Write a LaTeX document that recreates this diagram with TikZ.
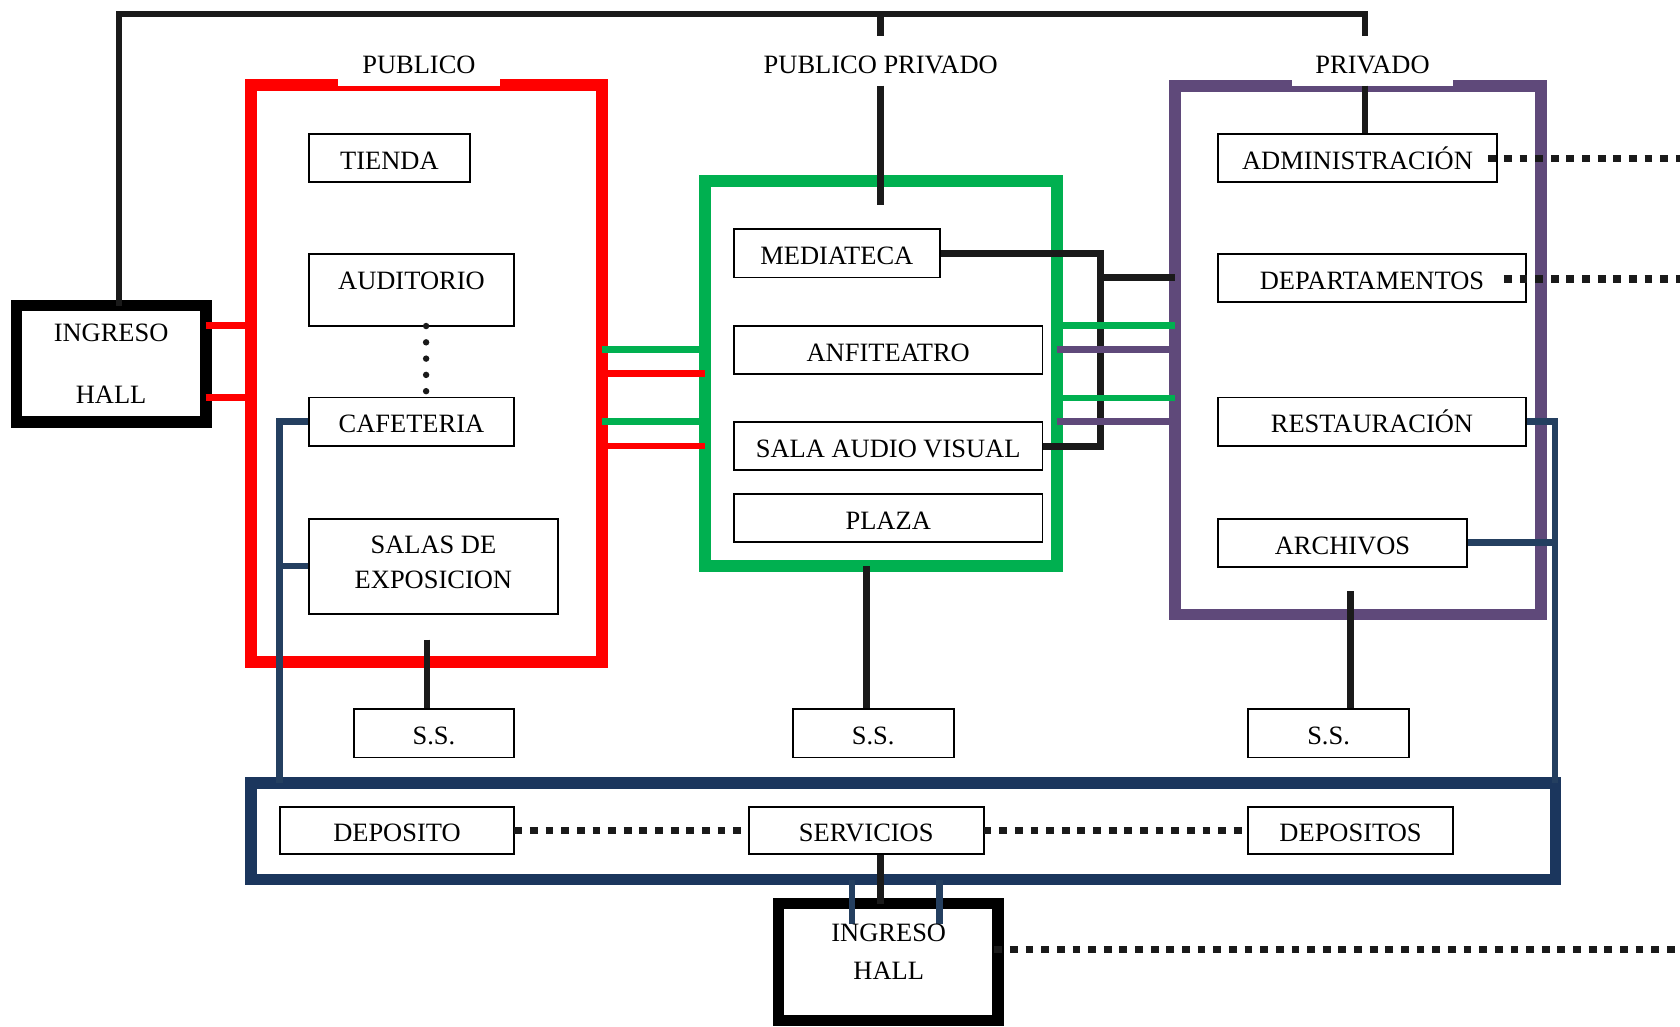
\documentclass[tikz,border=0pt]{standalone}
\usepackage{fontspec}
\setmainfont{Liberation Serif}
\definecolor{cred}{HTML}{FF0000}
\definecolor{cgreen}{HTML}{00B050}
\definecolor{cpurple}{HTML}{5F497A}
\definecolor{cnavy}{HTML}{1B365D}
\definecolor{cnavyl}{HTML}{243F60}
\definecolor{cblk}{HTML}{1A1A1A}
\begin{document}
\begin{tikzpicture}[x=0.5pt,y=-0.5pt,
  txt/.style={font=\fontsize{12.35pt}{16.5pt}\selectfont, inner sep=0pt, outer sep=0pt},
  bx/.style={txt, draw=black, line width=0.9pt, fill=white, rectangle},
  onel/.style={text height=10.6pt, text depth=0pt},
  lbl/.style={txt, text height=9.4pt, text depth=0pt},
  zone/.style={draw=#1, line width=5.4pt, rectangle, inner sep=0pt, outer sep=0pt},
  hall/.style={zone=black, fill=white, txt},
  link/.style={draw=#1, line width=3.2pt},
  sqdot/.style={draw=cblk, line width=3.5pt, dash pattern=on 3.65pt off 3.65pt},
  rddot/.style={draw=cblk, line width=3pt, line cap=round, dash pattern=on 0pt off 7.6pt},
  sz/.style 2 args={minimum width=#1pt, minimum height=#2pt},
]
\useasboundingbox (0,0) rectangle (1568,958);
\fill[white] (0,0) rectangle (1568,958);

% zones
\node[zone=cred, sz={163.6}{269.1}] (pub) at (398,348.5) {};
\node[zone=cgreen, sz={164.15}{179.75}] (mix) at (822.35,348.75) {};
\node[zone=cpurple, sz={170.8}{246.5}] (priv) at (1267.2,327) {};
\node[zone=cnavy, sz={608.7}{45}] (serv) at (843.1,776) {};
\node[hall, align=center, sz={88.3}{54.3}] (ingA) at (103.7,339.5) {INGRESO\\[12.5pt]HALL};
\node[hall, sz={102.6}{54.6}] (ingB) at (829,898) {};

% zone labels
\node[lbl, fill=white, sz={76}{21}] (lblPub) at (391,59) {PUBLICO};
\node[lbl] (lblPP) at (822,59) {PUBLICO PRIVADO};
\node[lbl, fill=white, sz={75}{21}] (lblPriv) at (1281,59) {PRIVADO};

% helper coordinates
\coordinate (busL) at (111,13);
\coordinate (busM) at (822,13);
\coordinate (busR) at (1274,13);
\coordinate (ppTop) at (822,34);
\coordinate (prTop) at (1274,34);
\coordinate (ppBot) at (822,80);
\coordinate (ppEnd) at (822,191);
\coordinate (prBot) at (1274,80);
\coordinate (brkB) at (1027.5,416.5);
\coordinate (brkJ) at (1027.5,259);
\coordinate (ss1top) at (398.5,597);
\coordinate (ss2top) at (809,528.5);
\coordinate (ss3top) at (1260.5,552);
\coordinate (nvL) at (261,731);
\coordinate (nvR) at (1451.5,731);
\coordinate (st1) at (795,862);
\coordinate (st2) at (876.7,862);
\coordinate (svx) at (822,797);
\coordinate (edge) at (1568,0);
\coordinate (adDot) at (1389,148);
\coordinate (deDot) at (1403.6,260.5);
\coordinate (inDot) at (928,886);
\coordinate (dtA) at (397.7,304.3);

% black connectors
\draw[link=cblk] (busL |- ingA.north) -- (busL) -- (busR) -- (prTop);
\draw[link=cblk] (busM) -- (ppTop);
\draw[link=cblk] (ppBot) -- (ppEnd);
\draw[link=cblk] (prBot) -- (1274,125);
\draw[link=cblk] (877,236.5) -| (brkB) -- (973,416.5);
\draw[link=cblk] (brkJ) -- (brkJ -| priv.west);
\draw[link=cblk] (ss1top) -- (398.5,662);
\draw[link=cblk] (ss2top) -- (809,662);
\draw[link=cblk] (ss3top) -- (1260.5,662);
\draw[link=cblk] (svx) -- (svx |- ingB.north);

% coloured connectors
\draw[link=cred] (ingA.east |- 0,304) -- (pub.west |- 0,304);
\draw[link=cred] (ingA.east |- 0,371) -- (pub.west |- 0,371);
\draw[link=cgreen] (pub.east |- 0,326.5) -- (mix.west |- 0,326.5);
\draw[link=cred] (pub.east |- 0,348.5) -- (mix.west |- 0,348.5);
\draw[link=cgreen] (pub.east |- 0,393.7) -- (mix.west |- 0,393.7);
\draw[link=cred] (pub.east |- 0,416.2) -- (mix.west |- 0,416.2);
\draw[link=cgreen] (mix.east |- 0,304) -- (priv.west |- 0,304);
\draw[link=cpurple] (mix.east |- 0,326.5) -- (priv.west |- 0,326.5);
\draw[link=cgreen] (mix.east |- 0,371.5) -- (priv.west |- 0,371.5);
\draw[link=cpurple] (mix.east |- 0,393.7) -- (priv.west |- 0,393.7);

% navy connectors
\draw[link=cnavyl, line width=3pt] (288,393.5) -| (nvL);
\draw[link=cnavyl, line width=3pt] (288,528.5) -- (nvL |- 0,528.5);
\draw[link=cnavyl, line width=3pt] (1424,393.5) -| (nvR);
\draw[link=cnavyl, line width=3pt] (1369,506.5) -- (nvR |- 0,506.5);
\draw[link=cnavyl, line width=3pt] (st1 |- serv.south) -- (st1);
\draw[link=cnavyl, line width=3pt] (st2 |- serv.south) -- (st2);

% room boxes
\begin{scope}[every node/.style={bx, onel}]
\node[sz={75.5}{22.5}] (tienda) at (363.5,147.5) {TIENDA};
\node[sz={96}{33.5}, text depth=10.5pt] (audit) at (384,270.5) {AUDITORIO};
\node[sz={96}{22.5}] (cafe) at (384,393.5) {CAFETERIA};
\node[sz={96}{22.5}] (media) at (781,236.5) {MEDIATECA};
\node[sz={144}{22.5}] (anfi) at (829,326.5) {ANFITEATRO};
\node[sz={144}{22.5}] (sav) at (829,416.5) {SALA AUDIO VISUAL};
\node[sz={144}{22.5}] (plaza) at (829,483.5) {PLAZA};
\node[sz={130}{22.5}] (admin) at (1267,147.5) {ADMINISTRACIÓN};
\node[sz={143.5}{22.5}] (depto) at (1280.5,259.5) {DEPARTAMENTOS};
\node[sz={143.5}{22.5}] (resta) at (1280.5,393.5) {RESTAURACIÓN};
\node[sz={116}{22.5}] (archi) at (1253,506.5) {ARCHIVOS};
\node[sz={75}{22.5}] (ss1) at (405,684.5) {S.S.};
\node[sz={75}{22.5}] (ss2) at (815,684.5) {S.S.};
\node[sz={75}{22.5}] (ss3) at (1240,684.5) {S.S.};
\node[sz={109.5}{22}] (depo) at (370.5,775) {DEPOSITO};
\node[sz={109.5}{22}] (servi) at (808.5,775) {SERVICIOS};
\node[sz={95.5}{22}] (depos) at (1260.5,775) {DEPOSITOS};
\end{scope}
\node[bx, sz={116.5}{44.5}] (salas) at (404.5,528.5) {};
\node[txt, align=center] (salasTxt) at (404.5,525) {SALAS DE\\EXPOSICION};

\node[txt, align=center] (ingBtxt) at (829.5,888.5) {INGRESO\\[1pt]HALL};

% dotted links
\draw[rddot] (dtA) -- (dtA |- cafe.north);
\draw[sqdot] (adDot) -- (adDot -| edge);
\draw[sqdot] (deDot) -- (deDot -| edge);
\draw[sqdot] (depo.east) -- (servi.west);
\draw[sqdot] (servi.east) -- (depos.west);
\draw[sqdot] (inDot) -- (inDot -| edge);
\end{tikzpicture}
\end{document}
